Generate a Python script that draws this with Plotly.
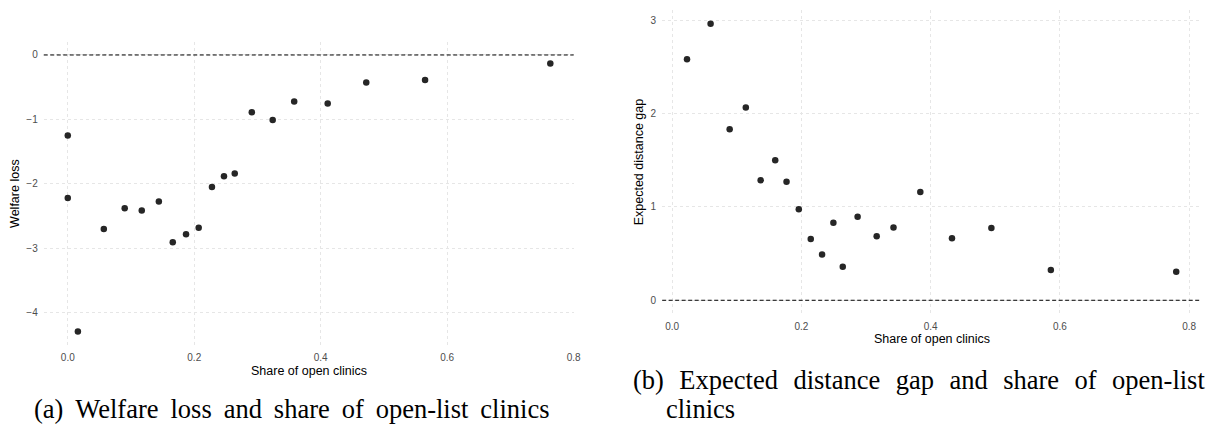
import plotly.graph_objects as go

W, H = 1222, 425

# ---------------- data ----------------
share_a = [0.0, 0.0, 0.016, 0.057, 0.090, 0.117, 0.144, 0.166, 0.187, 0.207,
           0.228, 0.247, 0.264, 0.291, 0.324, 0.358, 0.411, 0.472, 0.565, 0.763]
welfare_loss = [-1.25, -2.22, -4.29, -2.70, -2.38, -2.415, -2.275, -2.905, -2.78, -2.68,
                -2.05, -1.88, -1.84, -0.89, -1.01, -0.72, -0.753, -0.428, -0.387, -0.134]

share_b = [0.023, 0.0595, 0.089, 0.114, 0.137, 0.1595, 0.177, 0.196, 0.2145, 0.232,
           0.2495, 0.264, 0.287, 0.3165, 0.3425, 0.384, 0.433, 0.494, 0.586, 0.780]
distance_gap = [2.58, 2.96, 1.83, 2.065, 1.285, 1.50, 1.27, 0.975, 0.655, 0.49,
                0.83, 0.36, 0.895, 0.685, 0.78, 1.16, 0.665, 0.775, 0.325, 0.305]

x_ticks = [0.0, 0.2, 0.4, 0.6, 0.8]
y_ticks_a = [-4, -3, -2, -1, 0]
y_ticks_b = [0, 1, 2, 3]

x_title = "Share of open clinics"
y_title_a = "Welfare loss"
y_title_b = "Expected distance gap"
caption_a = "(a) Welfare loss and share of open-list clinics"
caption_b1 = "(b) Expected distance gap and share of open-list"
caption_b2 = "clinics"

# ---------------- helpers ----------------
def px(x):
    return x / W

def py(y):
    return 1 - y / H

GRID = "#e6e6e6"
TICKC = "#4d4d4d"
PT = "#262626"
SANS = "Liberation Sans, Arial, sans-serif"
SERIF = "Liberation Serif, Times New Roman, serif"

fig = go.Figure()
fig.add_trace(go.Scatter(x=share_a, y=welfare_loss, mode="markers",
                         marker=dict(color=PT, size=6.5), xaxis="x", yaxis="y",
                         showlegend=False))
fig.add_trace(go.Scatter(x=share_b, y=distance_gap, mode="markers",
                         marker=dict(color=PT, size=6.5), xaxis="x2", yaxis="y2",
                         showlegend=False))

axis_common = dict(showgrid=True, gridcolor=GRID, griddash="3px,3px", gridwidth=1,
                   zeroline=False, showline=False,
                   tickfont=dict(family=SANS, size=10, color=TICKC),
                   ticks="outside", tickcolor="rgba(0,0,0,0)", ticklen=3)

fig.update_layout(
    width=W, height=H, autosize=False,
    margin=dict(l=0, r=0, t=0, b=0),
    paper_bgcolor="white", plot_bgcolor="white",
    xaxis=dict(domain=[px(44), px(577)], range=[-0.038, 0.8],
               tickvals=x_ticks, tickformat=".1f", anchor="y", **axis_common),
    yaxis=dict(domain=[py(345), py(41.7)], range=[-4.5, 0.206],
               tickvals=y_ticks_a, anchor="x", **axis_common),
    xaxis2=dict(domain=[px(666), px(1207.7)], range=[-0.0154, 0.818],
                tickvals=x_ticks, tickformat=".1f", anchor="y2", **axis_common),
    yaxis2=dict(domain=[py(314), py(10)], range=[-0.147, 3.108],
                tickvals=y_ticks_b, anchor="x2", **axis_common),
)

# dashed reference lines at zero
for xr, yr in [("x domain", "y"), ("x2 domain", "y2")]:
    fig.add_shape(type="line", xref=xr, yref=yr, x0=0, x1=1, y0=0, y1=0,
                  line=dict(color="black", width=1, dash="4px,2.5px"))

def ann(text, x, y, size, family, color="black", angle=0, xanchor="center"):
    fig.add_annotation(text=text, x=px(x), y=py(y), xref="paper", yref="paper",
                       showarrow=False, textangle=angle, xanchor=xanchor,
                       yanchor="middle",
                       font=dict(family=family, size=size, color=color))

ann(x_title, 310.5, 371, 12.5, SANS)
ann(x_title, 937, 339, 12.5, SANS)
ann(y_title_a, 15, 193, 12.5, SANS, angle=-90)
ann(y_title_b, 643, 162, 12.5, SANS, angle=-90)

# captions: wider (LaTeX-like) inter-word spacing
sp_a = " \u2009"
sp_b = " \u2004"
ann(caption_a.replace(" ", sp_a), 294, 409, 26.5, SERIF)
ann(caption_b1.replace(" ", sp_b), 635, 380, 26.5, SERIF, xanchor="left")
ann(caption_b2, 668, 409, 26.5, SERIF, xanchor="left")

fig.write_html("out.html",
               config={"displayModeBar": False},
               post_script="document.body.style.margin='0';"
                           "document.body.style.overflow='hidden';")
